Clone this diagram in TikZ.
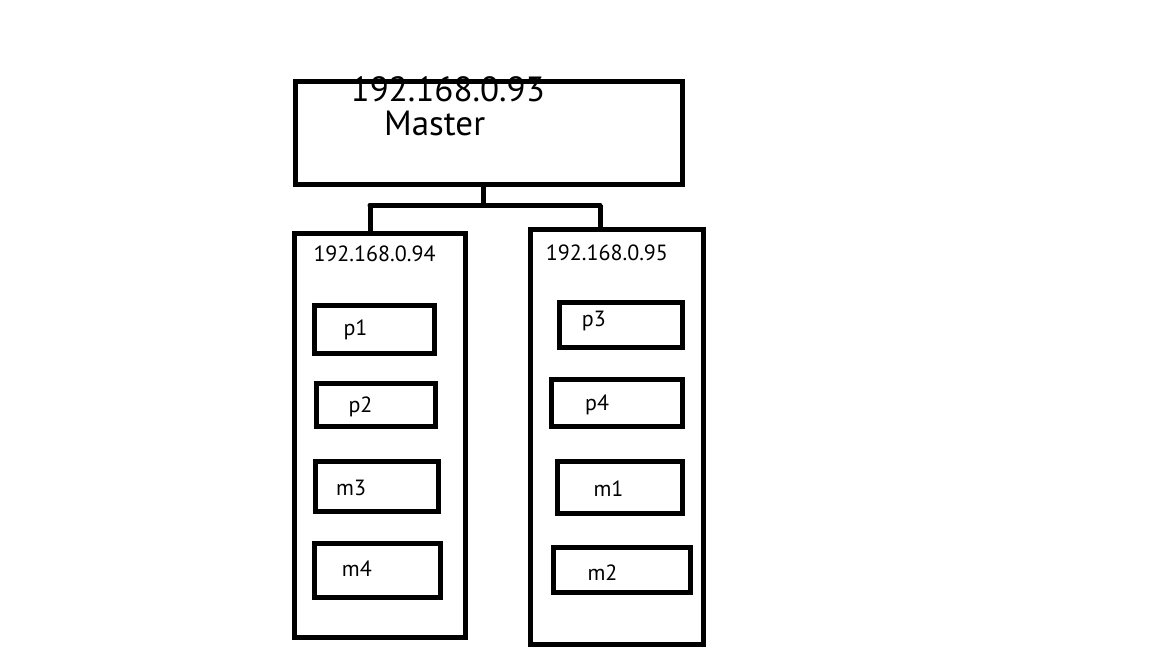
\documentclass[tikz,border=0pt]{standalone}
\usepackage{fontspec}
\setmainfont{PT Sans}
\begin{document}
\begin{tikzpicture}[x=1pt,y=-1pt,
  box/.style={draw=black,line width=5pt,inner sep=0pt,rectangle},
  bigtxt/.style={anchor=base west,inner sep=0pt,font=\fontsize{35}{35}\selectfont},
  smalltxt/.style={anchor=base west,inner sep=0pt,font=\fontsize{22}{22}\selectfont},
  wire/.style={line width=5pt,draw=black}]
\fill[white] (0,0) rectangle (1152,648);
\useasboundingbox (0,0) rectangle (1152,648);
% master
\node[box,minimum width=387pt,minimum height=102.5pt] (master) at (488.5,132.75) {};
\node[bigtxt] (mip) at (350.5,101.7) {192.168.0.93};
\node[bigtxt] (mname) at (384,135) {Master};
% hosts
\node[box,minimum width=171.5pt,minimum height=404pt] (left) at (379.75,435) {};
\node[box,minimum width=172.5pt,minimum height=415pt] (right) at (616.75,436.5) {};
\node[smalltxt] (lip) at (313.3,261.7) {192.168.0.94};
\node[smalltxt] (rip) at (545.7,260) {192.168.0.95};
% left inner
\node[box,minimum width=120pt,minimum height=47.5pt] (p1) at (374,329.25) {};
\node[box,minimum width=119pt,minimum height=43.5pt] (p2) at (376,404.75) {};
\node[box,minimum width=123.5pt,minimum height=50.7pt] (m3) at (376.75,486.35) {};
\node[box,minimum width=126pt,minimum height=54.5pt] (m4) at (377,570.25) {};
\node[smalltxt] (tp1) at (343.3,335) {p1};
\node[smalltxt] (tp2) at (348.3,412.7) {p2};
\node[smalltxt] (tm3) at (336,495.3) {m3};
\node[smalltxt] (tm4) at (341.7,576) {m4};
% right inner
\node[box,minimum width=123.5pt,minimum height=45pt] (p3) at (620.75,325) {};
\node[box,minimum width=131pt,minimum height=47pt] (p4) at (617,402.5) {};
\node[box,minimum width=125.5pt,minimum height=52pt] (m1) at (619.75,487.5) {};
\node[box,minimum width=137.5pt,minimum height=45pt] (m2) at (621.75,570) {};
\node[smalltxt] (tp3) at (581.7,326.7) {p3};
\node[smalltxt] (tp4) at (585,410) {p4};
\node[smalltxt] (tm1) at (593.3,496) {m1};
\node[smalltxt] (tm2) at (587.3,580) {m2};
% connectors
\coordinate (jm) at (483,205);
\coordinate (jl) at (370,205);
\coordinate (jr) at (600,205);
\draw[wire] (jm |- master.south) -- (jm);
\draw[wire,line cap=round] (jl) -- (jr);
\draw[wire] (jl) -- (jl |- left.north);
\draw[wire] (jr) -- (jr |- right.north);
\end{tikzpicture}
\end{document}
